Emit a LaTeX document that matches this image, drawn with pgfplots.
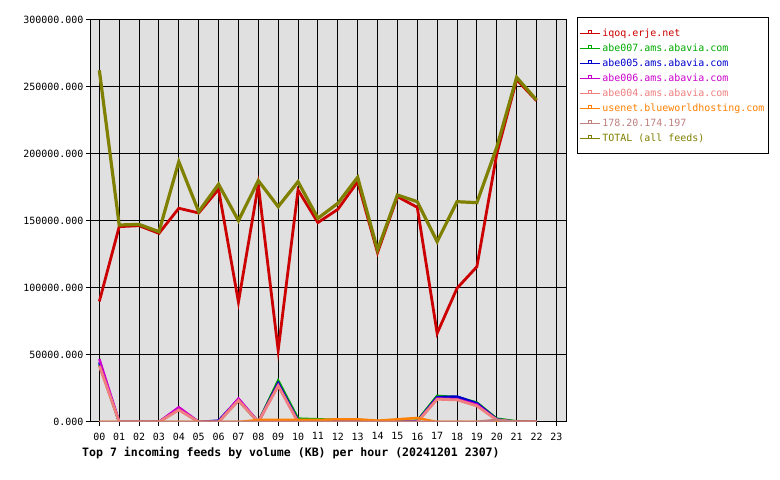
\documentclass[border=0pt]{standalone}
\usepackage{fontspec}
\setmainfont{DejaVu Sans Mono}
\usepackage{pgfplots}
\pgfplotsset{compat=1.18}
\definecolor{cred}{RGB}{204,0,0}
\definecolor{cgreen}{RGB}{0,170,0}
\definecolor{cblue}{RGB}{0,0,204}
\definecolor{cmag}{RGB}{204,0,204}
\definecolor{cpink}{RGB}{240,128,128}
\definecolor{corange}{RGB}{255,128,0}
\definecolor{crosy}{RGB}{192,128,128}
\definecolor{colive}{RGB}{128,128,0}
\definecolor{cbg}{RGB}{224,224,224}
\begin{document}
\begin{tikzpicture}
\path[use as bounding box] (0,0) rectangle (780bp,480bp);
\begin{axis}[
  at={(90bp,58bp)}, anchor=south west,
  scale only axis, width=476.7bp, height=402bp,
  xmin=-0.47, xmax=23.52, ymin=0, ymax=300000,
  axis background/.style={fill=cbg},
  axis line style={black, line width=1bp},
  xtick={0,...,23},
  xticklabels={00,01,02,03,04,05,06,07,08,09,10,11,12,13,14,15,16,17,18,19,20,21,22,23},
  ytick={0,50000,...,300000},
  xtick pos=bottom, ytick pos=left,
  tick align=outside,
  major tick length=4.5bp,
  tick style={black, line width=1bp},
  grid=major,
  major grid style={black, line width=1bp},
  scaled y ticks=false,
  /pgf/number format/.cd, fixed, fixed zerofill, precision=3, 1000 sep={}, assume math mode=true,
  /pgfplots/.cd,
  tick label style={font=\fontsize{10}{12}\selectfont, black},
  yticklabel style={inner sep=1bp, xshift=-1bp},
  xticklabel style={inner sep=1bp, yshift=-5bp},
  legend style={at={(1.0216,1.0075)}, anchor=north west, draw=black, line width=1bp, fill=white,
    font=\fontsize{10}{15}\selectfont, inner xsep=2bp, inner ysep=9bp, row sep=2bp},
  legend cell align=left,
  legend image code/.code={
    \draw[#1, line width=1bp] (0bp,0bp) -- (20bp,0bp);
    \draw[#1, line width=0.8bp] (8.5bp,0bp) rectangle (11.5bp,2.5bp);
  },
]
\addplot[cred, line width=2.8bp] coordinates {
(0,90000)(1,145800)(2,146500)(3,140800)(4,159500)(5,156000)(6,173700)(7,89500)(8,176900)(9,53500)(10,173100)(11,148800)(12,158700)(13,179300)(14,126400)(15,168200)(16,160200)(17,66200)(18,99800)(19,115900)(20,200000)(21,255500)(22,239800)};
\addlegendentry[text=cred]{iqoq.erje.net}
\addplot[cgreen, line width=2.5bp] coordinates {
(0,43000)(1,0)(2,0)(3,0)(4,9500)(5,0)(6,500)(7,16000)(8,0)(9,31000)(10,2500)(11,2000)(12,1500)(13,1500)(14,500)(15,500)(16,1000)(17,19500)(18,18500)(19,14500)(20,2500)(21,500)(22,0)};
\addlegendentry[text=cgreen]{abe007.ams.abavia.com}
\addplot[cblue, line width=2.5bp] coordinates {
(0,44500)(1,0)(2,0)(3,0)(4,10000)(5,0)(6,1000)(7,17000)(8,0)(9,29000)(10,1000)(11,500)(12,500)(13,500)(14,0)(15,0)(16,500)(17,18500)(18,19000)(19,14000)(20,2000)(21,0)(22,0)};
\addlegendentry[text=cblue]{abe005.ams.abavia.com}
\addplot[cmag, line width=2.5bp] coordinates {
(0,47000)(1,0)(2,0)(3,0)(4,11000)(5,0)(6,0)(7,17500)(8,0)(9,27500)(10,0)(11,0)(12,0)(13,0)(14,0)(15,0)(16,0)(17,17500)(18,17000)(19,13000)(20,1500)(21,0)(22,0)};
\addlegendentry[text=cmag]{abe006.ams.abavia.com}
\addplot[cpink, line width=2.8bp] coordinates {
(0,42000)(1,0)(2,0)(3,0)(4,9000)(5,0)(6,0)(7,16000)(8,0)(9,27000)(10,0)(11,0)(12,0)(13,0)(14,0)(15,0)(16,0)(17,17000)(18,16500)(19,12000)(20,1500)(21,0)(22,0)};
\addlegendentry[text=cpink]{abe004.ams.abavia.com}
\addplot[corange, line width=2.5bp] coordinates {
(0,0)(1,0)(2,0)(3,0)(4,0)(5,0)(6,0)(7,0)(8,1500)(9,1500)(10,1500)(11,1500)(12,2000)(13,2000)(14,1000)(15,2000)(16,3000)(17,0)(18,0)(19,0)(20,500)(21,0)(22,0)};
\addlegendentry[text=corange]{usenet.blueworldhosting.com}
\addplot[crosy, line width=2.8bp] coordinates {
(0,0)(1,0)(2,0)(3,0)(4,0)(5,0)(6,0)(7,0)(8,0)(9,0)(10,0)(11,0)(12,0)(13,0)(14,0)(15,0)(16,0)(17,0)(18,0)(19,0)(20,1500)(21,0)(22,0)};
\addlegendentry[text=crosy]{178.20.174.197}
\addplot[colive, line width=3.2bp] coordinates {
(0,262500)(1,147000)(2,147500)(3,142000)(4,194300)(5,157000)(6,177400)(7,150300)(8,180100)(9,160700)(10,179300)(11,152000)(12,163200)(13,182600)(14,128400)(15,169400)(16,164400)(17,134600)(18,164400)(19,163700)(20,205000)(21,257200)(22,240300)};
\addlegendentry[text=colive]{TOTAL (all feeds)}
\end{axis}
\node[anchor=base west, inner sep=0pt, font=\bfseries\fontsize{11.6}{14}\selectfont] at (82bp,24bp) {Top 7 incoming feeds by volume (KB) per hour (20241201 2307)};
\end{tikzpicture}
\end{document}
